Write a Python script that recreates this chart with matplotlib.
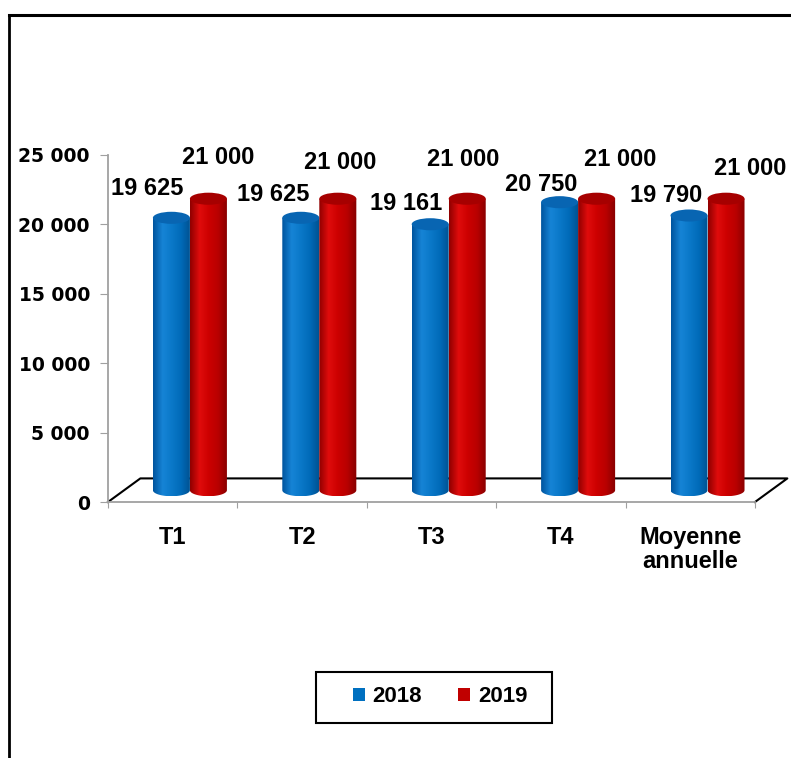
import numpy as np
import matplotlib.pyplot as plt
from matplotlib.colors import LinearSegmentedColormap
from matplotlib.patches import Ellipse, Polygon, Patch, Rectangle
from matplotlib.lines import Line2D

categories = ['T1', 'T2', 'T3', 'T4', 'Moyenne\nannuelle']
annee_2018 = [19625, 19625, 19161, 20750, 19790]
annee_2019 = [21000, 21000, 21000, 21000, 21000]
series = ['2018', '2019']
graduations = [0, 5000, 10000, 15000, 20000, 25000]


def fmt(v):
    return f"{v:,.0f}".replace(",", " ")


# décalage des étiquettes (en pixels) par rapport au haut du cylindre
decal_2018 = [(-24, 29), (-28, 23), (-24, 21), (-18, 18), (-23, 20)]
decal_2019 = [(10, 41), (2, 36), (-4, 39), (24, 39), (24, 30)]

plt.rcParams['font.family'] = ['Liberation Sans', 'DejaVu Sans']
plt.rcParams['font.weight'] = 'bold'

W, H = 791, 758
fig = plt.figure(figsize=(W / 100, H / 100), dpi=100)
ax = fig.add_axes([108 / W, 1 - 502 / H, (755 - 108) / W, (502 - 155) / H])

x = np.arange(len(categories))
larg = 0.286
socle = 850      # effet de profondeur 3D
haut_ell = 870

bleu = LinearSegmentedColormap.from_list(
    'bleu', ['#00549e', '#1684d6', '#0a78c8', '#006ab8', '#00508f'])
rouge = LinearSegmentedColormap.from_list(
    'rouge', ['#900000', '#e00c0c', '#cc0000', '#b80000', '#860000'])
grad = np.linspace(0, 1, 64).reshape(1, -1)

z = [3]


def cylindre(xc, v, cmap, dessus):
    x0, x1 = xc - larg / 2, xc + larg / 2
    y0, y1 = socle, socle + v
    t = np.linspace(np.pi, 2 * np.pi, 40)
    bas = np.column_stack([xc + larg / 2 * np.cos(t), y0 + haut_ell / 2 * np.sin(t)])
    contour = np.vstack([[x0, y1], bas, [x1, y1]])
    clip = Polygon(contour, closed=True, facecolor='none', edgecolor='none')
    ax.add_patch(clip)
    im = ax.imshow(grad, extent=[x0, x1, y0 - haut_ell / 2, y1], aspect='auto',
                   cmap=cmap, interpolation='bilinear', zorder=z[0])
    im.set_clip_path(clip)
    ax.add_patch(Ellipse((xc, y1), larg, haut_ell, facecolor=dessus,
                         edgecolor='none', zorder=z[0] + 0.5))
    z[0] += 1


# sol en perspective
prof_x, prof_y = 0.25, 1700
ax.plot([-0.5, -0.5 + prof_x, 4.5 + prof_x, 4.5], [0, prof_y, prof_y, 0],
        color='black', lw=1.5, clip_on=False, zorder=1)

for i in x:
    cylindre(i - 0.01, annee_2018[i], bleu, '#0865b2')
    cylindre(i - 0.01 + larg, annee_2019[i], rouge, '#a60000')

for i in x:
    ax.annotate(fmt(annee_2018[i]), (i - 0.01, socle + annee_2018[i]),
                xytext=decal_2018[i], textcoords='offset pixels',
                ha='center', va='center', fontsize=17, fontweight='bold', zorder=20)
    ax.annotate(fmt(annee_2019[i]), (i - 0.01 + larg, socle + annee_2019[i]),
                xytext=decal_2019[i], textcoords='offset pixels',
                ha='center', va='center', fontsize=17, fontweight='bold', zorder=20)

ax.set_xlim(-0.5, 4.5)
ax.set_ylim(0, 25000)
ax.set_yticks(graduations)
ax.set_yticklabels([fmt(g) for g in graduations], fontfamily='DejaVu Sans',
                   fontsize=13.5, fontweight='bold')
ax.set_xticks(np.arange(-0.5, 5, 1))
ax.set_xticklabels([])
ax.set_xticks(x, minor=True)
ax.set_xticklabels(categories, minor=True, fontsize=17, fontweight='bold',
                   linespacing=1.05, va='top')
ax.tick_params(axis='y', direction='out', length=6, color='#a0a0a0', pad=7)
ax.tick_params(axis='x', which='major', direction='out', length=4, color='#a0a0a0')
ax.tick_params(axis='x', which='minor', length=0, pad=17)
for s in ['top', 'right']:
    ax.spines[s].set_visible(False)
for s in ['left', 'bottom']:
    ax.spines[s].set_color('#a0a0a0')
    ax.spines[s].set_linewidth(1.3)
ax.patch.set_visible(False)

# légende
fig.add_artist(Rectangle((316 / W, 1 - 723 / H), 236 / W, 51 / H, transform=fig.transFigure,
                         facecolor='white', edgecolor='black', lw=1.5))
handles = [Patch(facecolor='#0070c0'), Patch(facecolor='#c00000')]
fig.legend(handles, series, loc='center', bbox_to_anchor=(440 / W, 1 - 697 / H),
           ncol=2, frameon=False, fontsize=16, handlelength=0.55, handleheight=0.55,
           handletextpad=0.35, columnspacing=1.6, prop={'weight': 'bold', 'size': 16})

# cadre
fig.add_artist(Line2D([9 / W, 9 / W], [0, 1 - 15 / H], color='black', lw=2,
                      transform=fig.transFigure))
fig.add_artist(Line2D([9 / W, 1], [1 - 15 / H, 1 - 15 / H], color='black', lw=2.2,
                      transform=fig.transFigure))

fig.savefig('out.png', dpi=100)
